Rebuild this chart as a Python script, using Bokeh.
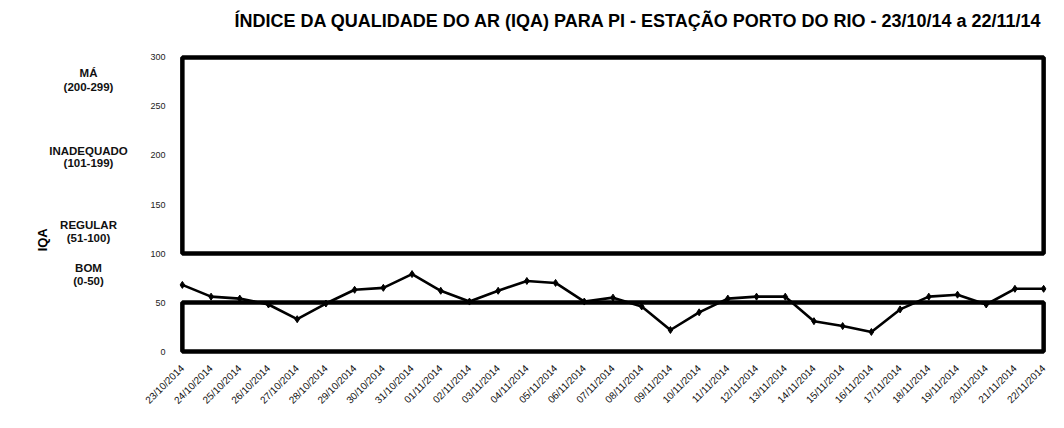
from math import pi
from bokeh.plotting import figure
from bokeh.layouts import row, column
from bokeh.models import Range1d, FixedTicker
from bokeh.core.properties import value
from bokeh.embed import file_html
from bokeh.resources import INLINE

# ---- data ----
title = "ÍNDICE DA QUALIDADE DO AR (IQA) PARA PI - ESTAÇÃO PORTO DO RIO - 23/10/14 a 22/11/14"
dates = ["23/10/2014", "24/10/2014", "25/10/2014", "26/10/2014", "27/10/2014",
         "28/10/2014", "29/10/2014", "30/10/2014", "31/10/2014", "01/11/2014",
         "02/11/2014", "03/11/2014", "04/11/2014", "05/11/2014", "06/11/2014",
         "07/11/2014", "08/11/2014", "09/11/2014", "10/11/2014", "11/11/2014",
         "12/11/2014", "13/11/2014", "14/11/2014", "15/11/2014", "16/11/2014",
         "17/11/2014", "18/11/2014", "19/11/2014", "20/11/2014", "21/11/2014",
         "22/11/2014"]
iqa = [68, 56, 54, 48, 33, 49, 63, 65, 79, 62,
       51, 62, 72, 70, 51, 55, 46, 22, 40, 54,
       56, 56, 31, 26, 20, 43, 56, 58, 48, 64, 64]
band_bottom = [100, 0]
band_top = [300, 50]
class_names = ["MÁ", "INADEQUADO", "REGULAR", "BOM"]
class_ranges = ["(200-299)", "(101-199)", "(51-100)", "(0-50)"]
y_ticks = [0, 50, 100, 150, 200, 250, 300]

xs = list(range(len(dates)))
FONT = "Liberation Sans"
W = 1048
W_LEFT = 130
H_TITLE = 40
TOP, BOTTOM, H = 14, 57, 372


def bare(fig):
    fig.outline_line_color = None
    fig.grid.visible = False
    return fig


# ---- title strip ----
pt = bare(figure(width=W, height=H_TITLE, output_backend="svg", toolbar_location=None,
                 x_range=Range1d(0, W), y_range=Range1d(0, H_TITLE),
                 x_axis_type=None, y_axis_type=None, min_border=0))
pt.text(x=[638], y=[H_TITLE - 20], text=[title], text_align="center",
        text_baseline="middle", text_font=value(FONT), text_font_size="18px",
        text_font_style="bold", text_color="black")

# ---- left panel with class labels ----
pl = bare(figure(width=W_LEFT, height=H, output_backend="svg", toolbar_location=None,
                 x_range=Range1d(0, W_LEFT), y_range=Range1d(-3, 303),
                 x_axis_type=None, y_axis_type=None,
                 min_border_left=0, min_border_right=0,
                 min_border_top=TOP, min_border_bottom=BOTTOM))

label_y = [(284, 270), (205, 192), (129, 116), (85, 72)]
lx, ly, lt = [], [], []
for name, rng, (y1, y2) in zip(class_names, class_ranges, label_y):
    lx += [88, 88]
    ly += [y1, y2]
    lt += [name, rng]
pl.text(x=lx, y=ly, text=lt, text_align="center", text_baseline="middle",
        text_font=value(FONT), text_font_size="11.5px", text_font_style="bold",
        text_color="#111111")
pl.text(x=[42], y=[114], text=["IQA"], angle=pi / 2, text_align="center",
        text_baseline="middle", text_font=value(FONT), text_font_size="13px",
        text_font_style="bold", text_color="black")

# ---- main chart ----
p = bare(figure(width=W - W_LEFT, height=H, output_backend="svg",
                toolbar_location=None,
                x_range=Range1d(-0.1, len(dates) - 1 + 0.1), y_range=Range1d(-3, 303),
                min_border_left=179 - W_LEFT, min_border_right=2,
                min_border_top=TOP, min_border_bottom=BOTTOM))

n = len(dates) - 1
p.quad(left=[0] * len(band_bottom), right=[n] * len(band_bottom),
       bottom=band_bottom, top=band_top, fill_alpha=0,
       line_color="black", line_width=4.5)

p.line(xs, iqa, line_color="black", line_width=2.6)
p.scatter(xs, iqa, marker="diamond", size=7, color="black")

p.xaxis.ticker = FixedTicker(ticks=xs)
p.xaxis.major_label_overrides = {i: d for i, d in enumerate(dates)}
p.xaxis.major_label_orientation = pi / 4
p.xaxis.major_label_text_font = FONT
p.xaxis.major_label_text_font_size = "10px"
p.xaxis.major_label_text_color = "#111111"
p.xaxis.axis_line_color = None
p.xaxis.major_tick_line_color = None
p.xaxis.minor_tick_line_color = None
p.xaxis.major_label_standoff = 6

p.yaxis.ticker = FixedTicker(ticks=y_ticks)
p.yaxis.major_label_text_font = FONT
p.yaxis.major_label_text_font_size = "9px"
p.yaxis.major_label_text_color = "#222222"
p.yaxis.axis_line_color = None
p.yaxis.major_tick_line_color = None
p.yaxis.minor_tick_line_color = None
p.yaxis.major_label_standoff = 8

layout = column(pt, row(pl, p, spacing=0), spacing=0)
open("out.html", "w").write(file_html(layout, INLINE))
